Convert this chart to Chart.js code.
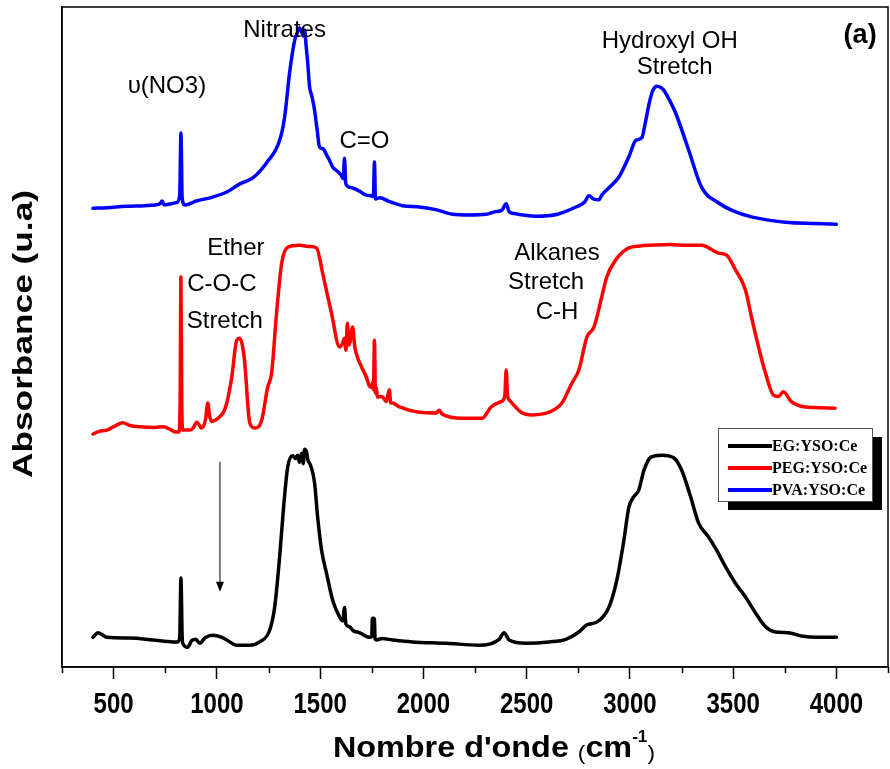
<!DOCTYPE html>
<html><head><meta charset="utf-8">
<script src="https://cdn.jsdelivr.net/npm/chart.js@4/dist/chart.umd.min.js"></script>
<style>html,body{margin:0;padding:0;background:#fff;} canvas{display:block;}</style>
</head><body>
<canvas id="c" width="890" height="769"></canvas>
<script>
// ---- data (wavenumber cm-1, absorbance in arbitrary offset units) ----
const seriesNames = ['EG:YSO:Ce', 'PEG:YSO:Ce', 'PVA:YSO:Ce'];
const xTickValues = [500, 1000, 1500, 2000, 2500, 3000, 3500, 4000];
const xTickLabels = ['500', '1000', '1500', '2000', '2500', '3000', '3500', '4000'];
const xMinorTicks = [250, 750, 1250, 1750, 2250, 2750, 3250, 3750, 4250];

const pvaWave = [400,470,560,650,700,725,735,745,780,807,820,826,832,845,900,980,1050,1111,1174,1241,1304,1328,1352,1377,1391,1400,1410,1418,1425,1432,1440,1449,1460,1473,1485,1497,1515,1531,1545,1560,1580,1600,1612,1618,1624,1642,1665,1690,1724,1745,1758,1763,1768,1790,1830,1898,1980,2060,2140,2220,2304,2350,2380,2401,2415,2440,2545,2650,2739,2780,2802,2825,2850,2864,2905,2946,2995,3029,3058,3075,3092,3110,3131,3150,3164,3190,3222,3285,3347,3430,3500,3589,3753,3900,4000];
const pvaAbs = [69.5,69.6,69.8,69.9,70.0,70.2,70.6,70.0,70.2,70.4,71.5,80.9,71.0,70.0,70.6,71.2,72.0,73.2,74.1,76.4,79.8,83.3,90.0,95.0,96.2,96.8,96.3,95.6,96.5,94.2,91.5,87.9,86.5,84.4,81.5,78.8,78.5,77.6,76.8,75.8,75.2,74.6,74.0,77.1,73.3,72.7,72.5,72.1,71.5,71.4,71.3,76.5,70.9,71.1,70.6,69.9,69.7,69.3,68.6,68.5,68.6,69.0,69.2,70.2,69.0,68.7,68.3,68.6,69.7,70.4,71.4,70.9,70.8,71.5,72.8,74.2,77.3,79.8,80.2,82.5,85.2,87.3,88.0,87.8,87.4,86.0,83.9,78.3,72.7,70.3,69.1,68.2,67.4,67.2,67.1];

const pegWave = [400,430,468,500,545,580,628,700,739,780,797,816,822,826,830,835,869,885,903,927,945,956,965,975,1014,1035,1048,1072,1096,1111,1125,1135,1159,1183,1217,1246,1265,1289,1314,1343,1400,1450,1483,1512,1555,1594,1608,1618,1625,1632,1640,1647,1657,1668,1680,1700,1724,1740,1748,1755,1758,1763,1768,1772,1777,1800,1820,1835,1842,1850,1884,1980,2062,2077,2092,2188,2285,2328,2376,2394,2401,2408,2415,2473,2526,2608,2671,2719,2753,2792,2826,2864,2888,2932,2995,3050,3106,3200,3270,3347,3430,3468,3511,3560,3589,3623,3657,3695,3720,3743,3782,3830,3900,3994];
const pegAbs = [35.3,35.7,35.9,36.4,37.0,36.6,36.4,36.3,36.4,35.9,35.6,35.6,40.0,59.1,40.0,35.9,35.9,36.2,37.1,36.2,37.5,40.0,38.0,37.2,37.9,38.8,40.0,43.9,49.5,49.8,48.5,46.1,37.0,36.2,37.4,42.4,44.5,53.6,61.2,63.6,63.9,63.7,63.5,59.7,53.6,48.5,49.0,49.8,48.0,52.1,48.8,49.5,51.5,48.5,47.0,45.5,43.9,42.5,42.4,43.2,42.0,49.5,41.5,42.4,40.9,41.0,40.2,42.0,40.0,40.0,39.4,38.6,38.5,38.9,38.3,37.7,37.7,39.4,40.2,41.0,45.0,41.0,40.5,38.6,38.2,38.6,40.0,43.0,45.0,50.0,51.5,56.1,59.1,61.7,63.5,63.8,63.9,64.0,63.9,63.9,62.7,62.4,60.2,57.1,53.0,48.5,44.5,41.2,41.0,41.7,40.2,39.5,39.3,39.2];

const egWave = [400,425,468,579,690,787,811,820,826,832,835,859,878,898,917,942,980,1024,1048,1096,1159,1207,1256,1280,1304,1323,1343,1367,1380,1391,1400,1410,1418,1425,1434,1442,1449,1473,1488,1507,1531,1560,1594,1610,1618,1625,1642,1660,1690,1739,1750,1753,1760,1763,1766,1772,1800,1850,1946,2111,2270,2367,2391,2415,2497,2608,2690,2753,2792,2840,2899,2937,2971,2995,3019,3043,3068,3102,3154,3212,3251,3294,3333,3381,3420,3463,3511,3560,3608,3657,3705,3767,3830,3912,4000];
const egAbs = [4.5,5.2,4.5,4.4,4.1,3.8,3.8,4.5,13.5,4.5,3.6,3.0,4.0,4.2,3.6,4.4,4.8,4.5,4.1,3.3,3.3,3.8,5.6,9.1,16.7,24.2,30.3,32.0,31.6,32.1,31.0,32.4,30.8,33.0,32.6,31.2,30.9,27.9,22.7,17.7,14.2,10.2,7.6,7.0,9.0,6.5,6.1,5.5,5.2,4.5,4.6,7.4,7.4,7.2,4.3,4.1,4.3,4.1,3.8,3.6,3.3,4.2,5.2,4.1,3.6,3.8,4.2,5.3,6.4,6.8,9.1,13.2,19.2,24.2,25.8,26.8,29.8,31.8,32.1,31.7,29.8,25.8,21.8,19.7,17.7,15.2,12.7,10.6,8.2,6.1,5.3,5.2,4.7,4.5,4.5];

// annotation labels, anchored in data coordinates
const noteTexts = ['\u03C5(NO3)', 'Nitrates', 'C=O', 'Hydroxyl OH', 'Stretch', 'Ether', 'C-O-C', 'Stretch', 'Alkanes', 'Stretch', 'C-H', '(a)'];
const noteX =     [758, 1328, 1715, 3193, 3217, 1092, 1024, 1038, 2647, 2594, 2647, 4115];
const noteY =     [88.0, 96.5, 79.7, 94.8, 90.8, 63.5, 57.9, 52.3, 62.6, 58.3, 53.8, 95.6];
const arrowX = 1015, arrowFrom = 31.1, arrowTo = 11.4;

const colors = ['#000000', '#ff0000', '#0000ff'];

function pts(w, a) { return w.map((v, i) => ({ x: v, y: a[i] })); }

const decor = {
  id: 'decor',
  afterDraw(chart) {
    const { ctx, chartArea: a, scales: { x, y } } = chart;
    ctx.save();
    // frame
    ctx.strokeStyle = '#000'; ctx.lineWidth = 1.5;
    ctx.strokeRect(a.left, a.top, a.right - a.left, a.bottom - a.top);
    // minor ticks
    xMinorTicks.forEach(v => {
      const px = Math.round(x.getPixelForValue(v)) + 0.5;
      ctx.beginPath(); ctx.moveTo(px, a.bottom); ctx.lineTo(px, a.bottom + 6); ctx.stroke();
    });
    // condensed bold tick labels
    ctx.fillStyle = '#000'; ctx.textAlign = 'center'; ctx.textBaseline = 'alphabetic';
    ctx.font = 'bold 30px "Liberation Sans", Arial, sans-serif';
    xTickValues.forEach((v, i) => {
      ctx.save();
      ctx.translate(x.getPixelForValue(v), a.bottom + 46);
      ctx.scale(0.8, 1);
      ctx.fillText(xTickLabels[i], 0, 0);
      ctx.restore();
    });
    // annotations
    ctx.textBaseline = 'middle';
    noteTexts.forEach((t, i) => {
      ctx.font = (t === '(a)') ? 'bold 27px "Liberation Sans", Arial, sans-serif' : '24px "Liberation Sans", Arial, sans-serif';
      ctx.fillText(t, x.getPixelForValue(noteX[i]), y.getPixelForValue(noteY[i]));
    });
    // arrow
    const ax = x.getPixelForValue(arrowX), y1 = y.getPixelForValue(arrowFrom), y2 = y.getPixelForValue(arrowTo);
    ctx.lineWidth = 1; ctx.beginPath(); ctx.moveTo(ax, y1); ctx.lineTo(ax, y2 - 8); ctx.stroke();
    ctx.beginPath(); ctx.moveTo(ax - 4, y2 - 10); ctx.lineTo(ax + 4, y2 - 10); ctx.lineTo(ax, y2); ctx.closePath(); ctx.fill();
    // y title (stretched along its length)
    const yt = 'Absorbance (u.a)';
    ctx.save();
    ctx.translate(25, (a.top + a.bottom) / 2 - 3);
    ctx.rotate(-Math.PI / 2);
    ctx.font = 'bold 27px "Liberation Sans", Arial, sans-serif';
    const yw = ctx.measureText(yt).width;
    ctx.scale(288 / yw, 1);
    ctx.textAlign = 'center'; ctx.textBaseline = 'middle';
    ctx.fillText(yt, 0, 0);
    ctx.restore();
    // x title with superscript
    ctx.textAlign = 'left'; ctx.textBaseline = 'alphabetic';
    const parts = [
      ['Nombre d\'onde ', 'bold 30px "Liberation Sans", Arial, sans-serif', 0],
      ['(', '21px "Liberation Sans", Arial, sans-serif', 3],
      ['cm', 'bold 30px "Liberation Sans", Arial, sans-serif', 0],
      ['-1', 'bold 16px "Liberation Sans", Arial, sans-serif', -15],
      [')', '21px "Liberation Sans", Arial, sans-serif', 3]
    ];
    let total = 0;
    parts.forEach(p => { ctx.font = p[1]; total += ctx.measureText(p[0]).width; });
    const sx = 322 / total;
    ctx.save();
    ctx.translate(494 - 161, 757);
    ctx.scale(sx, 1);
    let cx = 0;
    parts.forEach(p => { ctx.font = p[1]; ctx.fillText(p[0], cx, p[2]); cx += ctx.measureText(p[0]).width; });
    ctx.restore();
    // legend with shadow
    const lx = 718, ly = 428, lw = 154, lh = 73;
    ctx.fillStyle = '#000'; ctx.fillRect(lx + 10, ly + 9, lw, lh);
    ctx.fillStyle = '#fff'; ctx.fillRect(lx, ly, lw, lh);
    ctx.strokeStyle = '#555'; ctx.lineWidth = 1; ctx.strokeRect(lx + 0.5, ly + 0.5, lw, lh);
    chart.data.datasets.forEach((ds, i) => {
      const ry = ly + 18 + i * 22;
      ctx.strokeStyle = ds.borderColor; ctx.lineWidth = 4;
      ctx.beginPath(); ctx.moveTo(lx + 10, ry); ctx.lineTo(lx + 54, ry); ctx.stroke();
      ctx.fillStyle = '#000'; ctx.font = 'bold 16px "Liberation Serif", "Times New Roman", serif';
      ctx.textBaseline = 'middle';
      ctx.fillText(ds.label, lx + 54, ry + 1);
    });
    ctx.restore();
  }
};

new Chart(document.getElementById('c'), {
  type: 'line',
  data: {
    datasets: [
      { label: seriesNames[0], data: pts(egWave, egAbs), borderColor: colors[0] },
      { label: seriesNames[1], data: pts(pegWave, pegAbs), borderColor: colors[1] },
      { label: seriesNames[2], data: pts(pvaWave, pvaAbs), borderColor: colors[2] }
    ]
  },
  options: {
    responsive: false,
    animation: false,
    devicePixelRatio: 1,
    layout: { padding: { top: 7, right: 2, left: 0, bottom: 0 } },
    elements: {
      point: { radius: 0 },
      line: { borderWidth: 3.5, cubicInterpolationMode: 'monotone', borderJoinStyle: 'round', borderCapStyle: 'round', fill: false }
    },
    plugins: { legend: { display: false }, tooltip: { enabled: false } },
    scales: {
      x: {
        type: 'linear', min: 250, max: 4250, position: 'bottom',
        afterBuildTicks: s => { s.ticks = xTickValues.map(v => ({ value: v })); },
        afterFit: s => { s.height = 102; },
        border: { display: true, color: '#000', width: 1.5 },
        grid: { drawOnChartArea: false, drawTicks: true, tickLength: 12, tickColor: '#000', tickWidth: 1.5 },
        ticks: { display: false }
      },
      y: {
        min: 0, max: 100,
        afterFit: s => { s.width = 62; },
        border: { display: true, color: '#000', width: 1.5 },
        grid: { display: false, drawTicks: false },
        ticks: { display: false }
      }
    }
  },
  plugins: [decor]
});
</script>
</body></html>
